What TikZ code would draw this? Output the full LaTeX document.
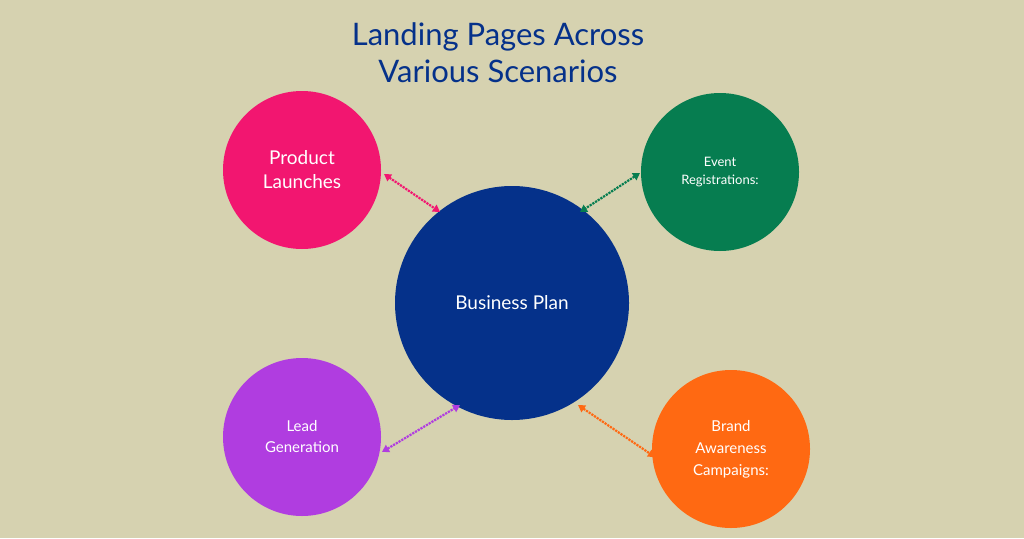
\documentclass[tikz,border=0pt]{standalone}
\usepackage{fontspec}
\setmainfont{Lato}
\usetikzlibrary{arrows.meta}
\definecolor{bg}{HTML}{D6D2B0}
\definecolor{navy}{HTML}{05318A}
\definecolor{pink}{HTML}{F21670}
\definecolor{grn}{HTML}{067D50}
\definecolor{purp}{HTML}{B03DE0}
\definecolor{orng}{HTML}{FF6912}
\tikzset{
  bub/.style={circle,minimum size=158pt,inner sep=0pt,text=white,align=center,font=\fontsize{15}{18}\selectfont},
  link/.style={densely dotted,line width=2.2pt,{Triangle[length=7pt,width=8pt]}-{Triangle[length=7pt,width=8pt]}}
}
\begin{document}
\begin{tikzpicture}[x=1pt,y=-1pt]
\fill[bg] (0,0) rectangle (1024,538);
\useasboundingbox (0,0) rectangle (1024,538);
\node[text=navy,align=center,font=\fontsize{31}{37}\selectfont] (title) at (498,53) {Landing Pages Across\\Various Scenarios};
\node[bub,fill=navy,minimum size=234pt,font=\fontsize{19}{22}\selectfont] (c) at (512,303) {Business Plan};
\node[bub,fill=pink,font=\fontsize{19}{24}\selectfont] (p) at (302,170) {Product\\Launches};
\node[bub,fill=grn,font=\fontsize{13}{18}\selectfont] (e) at (720,172) {Event\\Registrations:};
\node[bub,fill=purp,font=\fontsize{15}{21}\selectfont] (l) at (302,437) {Lead\\Generation};
\node[bub,fill=orng,font=\fontsize{15}{22}\selectfont] (b) at (731,449) {Brand\\Awareness\\Campaigns:};
\coordinate (p1) at (384,174); \coordinate (p2) at (440,212);
\coordinate (e1) at (640,173); \coordinate (e2) at (580,212);
\coordinate (l1) at (382,452); \coordinate (l2) at (460,405);
\coordinate (b1) at (578,405); \coordinate (b2) at (655,457);
\draw[link,pink] (p1) -- (p2);
\draw[link,grn] (e1) -- (e2);
\draw[link,purp] (l1) -- (l2);
\draw[link,orng] (b1) -- (b2);
\end{tikzpicture}
\end{document}
